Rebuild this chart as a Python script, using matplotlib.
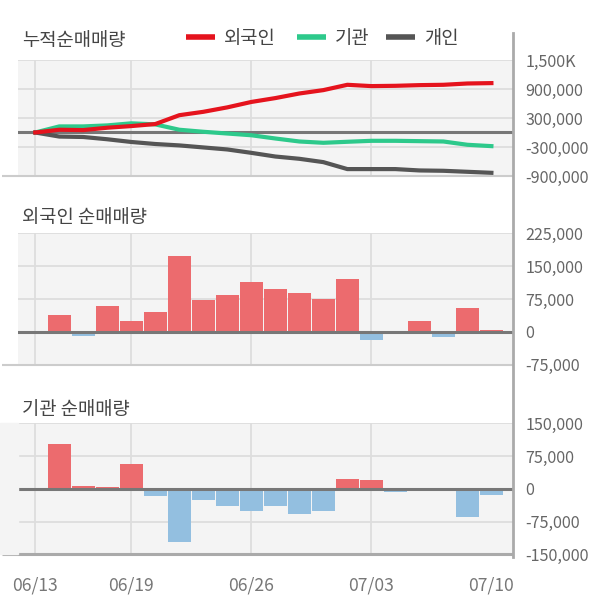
import numpy as np
import matplotlib
matplotlib.use("Agg")
import matplotlib.pyplot as plt
from matplotlib.lines import Line2D
from matplotlib.patches import Rectangle

plt.rcParams['font.family'] = ['Noto Sans CJK KR', 'DejaVu Sans']

# ---- data ----
dates = ["06/13", "06/14", "06/15", "06/18", "06/19", "06/20", "06/21", "06/22", "06/25", "06/26",
         "06/27", "06/28", "06/29", "07/02", "07/03", "07/04", "07/05", "07/06", "07/09", "07/10"]
tick_dates = ["06/13", "06/19", "06/26", "07/03", "07/10"]

# cumulative net buying
foreign_cum = [0, 57000, 50000, 99000, 133000, 175000, 358000, 428000, 520000, 632000,
               712000, 807000, 877000, 987000, 960000, 966000, 980000, 987000, 1014000, 1022000]
inst_cum = [0, 126000, 126000, 147000, 190000, 168000, 57000, 15000, -21000, -57000,
            -124000, -186000, -213000, -192000, -172000, -172000, -179000, -186000, -254000, -282000]
indiv_cum = [0, -84000, -93000, -140000, -196000, -238000, -267000, -309000, -351000, -421000,
             -497000, -544000, -613000, -757000, -757000, -757000, -785000, -792000, -813000, -834000]

# daily net buying (first day has no bar)
foreign_daily = [np.nan, 38000, -9000, 58500, 24300, 44800, 172500, 72200, 83600, 113200,
                 97300, 88100, 74500, 120000, -18200, -4500, 24300, -11400, 54000, 3800]
inst_daily = [np.nan, 101700, 5400, 3100, 55800, -17600, -120900, -26000, -40500, -49700,
              -38300, -56600, -49700, 21400, 19900, -8400, -5400, -5400, -63500, -15300]

cum_ticks = [-900000, -300000, 300000, 900000, 1500000]
cum_labels = ["-900,000", "-300,000", "300,000", "900,000", "1,500K"]
foreign_ticks = [-75000, 0, 75000, 150000, 225000]
foreign_labels = ["-75,000", "0", "75,000", "150,000", "225,000"]
inst_ticks = [-150000, -75000, 0, 75000, 150000]
inst_labels = ["-150,000", "-75,000", "0", "75,000", "150,000"]

# ---- style ----
BG = "#f4f4f4"
GRID = "#dddddd"
ZERO = "#777777"
TXT = "#666666"
RED_LINE = "#e5131d"
GREEN_LINE = "#2dc98b"
DARK_LINE = "#555555"
RED_BAR = "#ec6b6e"
BLUE_BAR = "#93bfe0"

W, H = 600, 604
x = np.arange(len(dates))
xlim = (-0.72, 19.9)
grid_idx = [0, 4, 9, 14]


def px_rect(top, bottom, left=18, right=513):
    return [left / W, 1 - bottom / H, (right - left) / W, (bottom - top) / H]


def style_axes(ax, ticks, labels, ylim, border_color, border_lw):
    ax.set_facecolor(BG)
    ax.set_xlim(*xlim)
    ax.set_ylim(*ylim)
    for s in ax.spines.values():
        s.set_visible(False)
    ax.yaxis.tick_right()
    ax.set_yticks(ticks)
    ax.set_yticklabels(labels)
    ax.tick_params(axis='y', length=0, pad=9, labelsize=11.6, labelcolor=TXT)
    for lab in ax.get_yticklabels():
        lab.set_horizontalalignment('left')
    ax.grid(axis='y', color=GRID, lw=1.3)
    ax.set_axisbelow(True)
    for i in grid_idx:
        ax.axvline(i, color=GRID, lw=1.3, zorder=0.5)
    ax.axhline(0, color=ZERO, lw=2.2, zorder=3)
    # bottom border runs a bit further left than the panel
    ax.plot([-1.38, xlim[1]], [ylim[0], ylim[0]], color=border_color, lw=border_lw,
            clip_on=False, zorder=4, solid_capstyle='butt')


def bar_panel(ax, values):
    vals = np.array(values, dtype=float)
    colors = [RED_BAR if v >= 0 else BLUE_BAR for v in np.nan_to_num(vals)]
    ax.bar(x, np.nan_to_num(vals), width=0.95, color=colors, zorder=2)


fig = plt.figure(figsize=(W / 100, H / 100), dpi=100)

# panel 1: cumulative
ax1 = fig.add_axes(px_rect(60, 176))
style_axes(ax1, cum_ticks, cum_labels, (-900000, 1500000), "#cccccc", 1.5)
ax1.plot(x, inst_cum, color=GREEN_LINE, lw=3, zorder=4)
ax1.plot(x, indiv_cum, color=DARK_LINE, lw=3, zorder=4)
ax1.plot(x, foreign_cum, color=RED_LINE, lw=3, zorder=5)
ax1.set_xticks([])

# panel 2: foreign
ax2 = fig.add_axes(px_rect(233.3, 364.7))
style_axes(ax2, foreign_ticks, foreign_labels, (-75000, 225000), "#cccccc", 1.5)
bar_panel(ax2, foreign_daily)
ax2.set_xticks([])

# panel 3: institution (background runs to the left edge)
fig.patches.append(Rectangle((0, 1 - 554.3 / H), 18 / W, (554.3 - 423.3) / H,
                             transform=fig.transFigure, color=BG, zorder=0))
ax3 = fig.add_axes(px_rect(423.3, 554.3))
style_axes(ax3, inst_ticks, inst_labels, (-150000, 150000), "#aaaaaa", 2.2)
bar_panel(ax3, inst_daily)
ax3.set_xticks([dates.index(d) for d in tick_dates])
ax3.set_xticklabels(tick_dates)
ax3.tick_params(axis='x', length=0, pad=16, labelsize=12.6, labelcolor="#777777")

# right side vertical rule
fig.add_artist(Line2D([513 / W, 513 / W], [1 - 33 / H, 1 - 557 / H],
                      transform=fig.transFigure, color="#aaaaaa", lw=2))

# titles
title_kw = dict(fontsize=13.5, color="#444444", va='center', ha='left')
fig.text(22 / W, 1 - 40.5 / H, "누적순매매량", **title_kw)
fig.text(22 / W, 1 - 218 / H, "외국인 순매매량", **title_kw)
fig.text(22 / W, 1 - 410 / H, "기관 순매매량", **title_kw)

# legend drawn by hand
legend_items = [("외국인", RED_LINE, 186), ("기관", GREEN_LINE, 297), ("개인", DARK_LINE, 386)]
for name, col, x0 in legend_items:
    fig.add_artist(Line2D([x0 / W, (x0 + 29) / W], [1 - 37 / H, 1 - 37 / H],
                          transform=fig.transFigure, color=col, lw=4, solid_capstyle='butt'))
    fig.text((x0 + 38) / W, 1 - 38.5 / H, name, fontsize=13.5, color="#444444",
             va='center', ha='left')

plt.savefig("out.png", dpi=100)
